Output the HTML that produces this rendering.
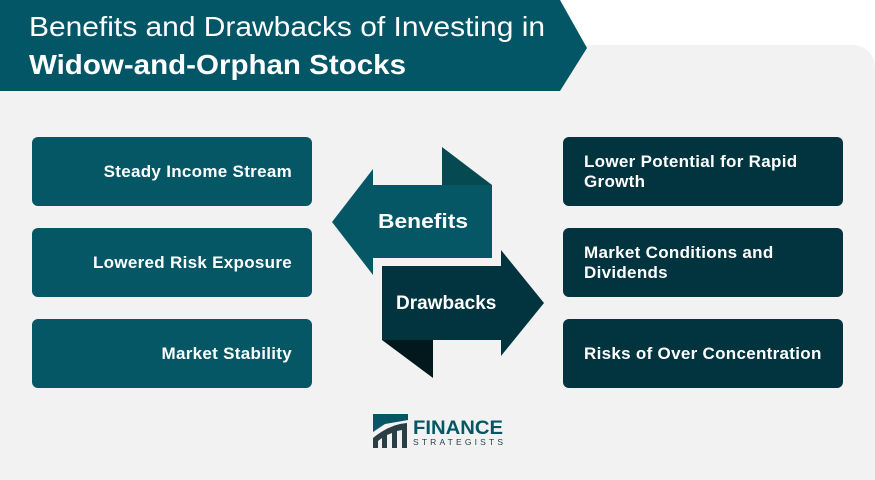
<!DOCTYPE html>
<html><head><meta charset="utf-8"><style>
body{margin:0;width:875px;height:480px;overflow:hidden;background:#fff;font-family:"Liberation Sans",sans-serif;position:relative}
.panel{position:absolute;left:0;top:45px;width:875px;height:435px;background:#f2f2f2;border-radius:0 22px 0 0}
.box{position:absolute;width:280px;height:69px;border-radius:6px;color:#fff;font-weight:bold;font-size:17px;letter-spacing:0.3px;display:flex;align-items:center;box-sizing:border-box;line-height:20px}
.l{left:32px;background:#055766;justify-content:flex-end;padding-right:20px;text-align:right}
.r{left:563px;background:#023440;padding-left:21px}
</style></head><body>
<div class="panel"></div>
<svg style="position:absolute;left:0;top:0" width="875" height="480">
<polygon points="0,0 560,0 587,48 560,91 0,91" fill="#025666"/>
<text x="29" y="36" fill="#fff" font-size="28" textLength="516" lengthAdjust="spacingAndGlyphs" font-family="Liberation Sans,sans-serif">Benefits and Drawbacks of Investing in</text>
<text x="29" y="74" fill="#fff" font-size="28" font-weight="bold" textLength="377" lengthAdjust="spacingAndGlyphs" font-family="Liberation Sans,sans-serif">Widow-and-Orphan Stocks</text>
<polygon points="442,147 492,185 442,185" fill="#044a50"/>
<polygon points="332,222 373,169 373,185 492,185 492,258 373,258 373,275" fill="#055766"/>
<text x="378" y="228" fill="#fff" font-size="20" font-weight="bold" textLength="90" lengthAdjust="spacingAndGlyphs" font-family="Liberation Sans,sans-serif">Benefits</text>
<polygon points="382,340 433,340 433,378" fill="#01191d"/>
<polygon points="382,266 501,266 501,250 544,303 501,356 501,340 382,340" fill="#023440"/>
<text x="396" y="309" fill="#fff" font-size="19" font-weight="bold" font-family="Liberation Sans,sans-serif">Drawbacks</text>
<g>
<polygon points="373,414 408,414 408,420 385,424 373,432" fill="#055766"/>
<path d="M373,448 L373,438 Q390,424 407,423 L407,448 L402,448 L402,430 L397,431 L397,448 L392,448 L392,433 L387,435 L387,448 L382,448 L382,438 L378,441 L378,448 Z" fill="#2a3e45"/>
<text x="413" y="434" fill="#055766" font-size="19" font-weight="bold" textLength="90" lengthAdjust="spacingAndGlyphs" font-family="Liberation Sans,sans-serif">FINANCE</text>
<text x="413" y="445" fill="#2a3e45" font-size="8.5" textLength="90" lengthAdjust="spacing" font-family="Liberation Sans,sans-serif">STRATEGISTS</text>
</g>
</svg>
<div class="box l" style="top:137px">Steady Income Stream</div>
<div class="box l" style="top:228px">Lowered Risk Exposure</div>
<div class="box l" style="top:319px">Market Stability</div>
<div class="box r" style="top:137px">Lower Potential for Rapid<br>Growth</div>
<div class="box r" style="top:228px">Market Conditions and<br>Dividends</div>
<div class="box r" style="top:319px">Risks of Over Concentration</div>
</body></html>
